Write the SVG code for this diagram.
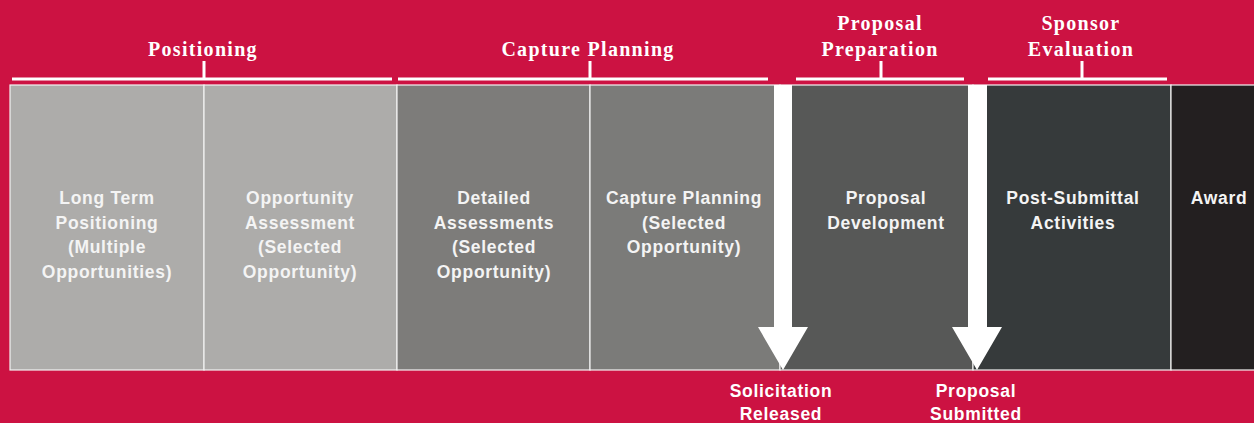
<svg xmlns="http://www.w3.org/2000/svg" width="1254" height="423" viewBox="0 0 1254 423">
<defs>
<style>
.bg{fill:#CC1242}
.box{stroke:#F2F2F2;stroke-width:1.2}
.lbl{font-family:"Liberation Sans",Arial,sans-serif;font-weight:bold;font-size:17.5px;fill:#F4F4F4;text-anchor:middle;letter-spacing:0.7px}
.phase{font-family:"Liberation Serif","Times New Roman",serif;font-weight:bold;font-size:20px;fill:#FFFFFF;text-anchor:middle;letter-spacing:1.3px}
.brk{stroke:#FFFFFF;stroke-width:3;fill:none}
.arrow{fill:#FFFFFF}
.ms{font-family:"Liberation Sans",Arial,sans-serif;font-weight:bold;font-size:17.5px;fill:#FFFFFF;text-anchor:middle;letter-spacing:0.7px}
</style>
</defs>
<rect class="bg" x="0" y="0" width="1254" height="423"/>

<g id="bracket-positioning">
<path class="brk" d="M12 79 H392 M204 61 V79"/>
<text class="phase" x="203" y="56">Positioning</text>
</g>
<g id="bracket-capture">
<path class="brk" d="M398 79 H768 M590 61 V79"/>
<text class="phase" x="588" y="56">Capture Planning</text>
</g>
<g id="bracket-proposal">
<path class="brk" d="M796 79 H964 M881 61 V79"/>
<text class="phase" x="880" y="30">Proposal</text>
<text class="phase" x="880" y="56">Preparation</text>
</g>
<g id="bracket-sponsor">
<path class="brk" d="M988 79 H1167 M1082 61 V79"/>
<text class="phase" x="1081" y="30">Sponsor</text>
<text class="phase" x="1081" y="56">Evaluation</text>
</g>

<g id="node-long-term">
<rect class="box" x="10" y="85" width="194" height="285" fill="#ADACAA"/>
<text class="lbl" x="107" y="204">Long Term</text>
<text class="lbl" x="107" y="228.5">Positioning</text>
<text class="lbl" x="107" y="253">(Multiple</text>
<text class="lbl" x="107" y="277.5">Opportunities)</text>
</g>
<g id="node-opportunity">
<rect class="box" x="204" y="85" width="193" height="285" fill="#ADACAA"/>
<text class="lbl" x="300" y="204">Opportunity</text>
<text class="lbl" x="300" y="228.5">Assessment</text>
<text class="lbl" x="300" y="253">(Selected</text>
<text class="lbl" x="300" y="277.5">Opportunity)</text>
</g>
<g id="node-detailed">
<rect class="box" x="397" y="85" width="193" height="285" fill="#7D7C7A"/>
<text class="lbl" x="494" y="204">Detailed</text>
<text class="lbl" x="494" y="228.5">Assessments</text>
<text class="lbl" x="494" y="253">(Selected</text>
<text class="lbl" x="494" y="277.5">Opportunity)</text>
</g>
<g id="node-capture">
<rect class="box" x="590" y="85" width="190" height="285" fill="#7B7B79"/>
<text class="lbl" x="684" y="204">Capture Planning</text>
<text class="lbl" x="684" y="228.5">(Selected</text>
<text class="lbl" x="684" y="253">Opportunity)</text>
</g>
<g id="node-proposal-dev">
<rect class="box" x="780" y="85" width="193" height="285" fill="#575857"/>
<text class="lbl" x="886" y="204">Proposal</text>
<text class="lbl" x="886" y="228.5">Development</text>
</g>
<g id="node-post-submittal">
<rect class="box" x="973" y="85" width="198" height="285" fill="#363A3B"/>
<text class="lbl" x="1073" y="204">Post-Submittal</text>
<text class="lbl" x="1073" y="228.5">Activities</text>
</g>
<g id="node-award">
<rect class="box" x="1171" y="85" width="90" height="285" fill="#231F20"/>
<text class="lbl" x="1219" y="204">Award</text>
</g>

<g id="connectors">
<g id="milestone-solicitation">
<polygon class="arrow" points="774,85 792,85 792,327 808,327 783,370 758,327 774,327"/>
<text class="ms" x="781" y="397">Solicitation</text>
<text class="ms" x="781" y="420">Released</text>
</g>
<g id="milestone-submitted">
<polygon class="arrow" points="968,85 987,85 987,327 1002,327 977,370 952,327 968,327"/>
<text class="ms" x="976" y="397">Proposal</text>
<text class="ms" x="976" y="420">Submitted</text>
</g>
</g>
</svg>
